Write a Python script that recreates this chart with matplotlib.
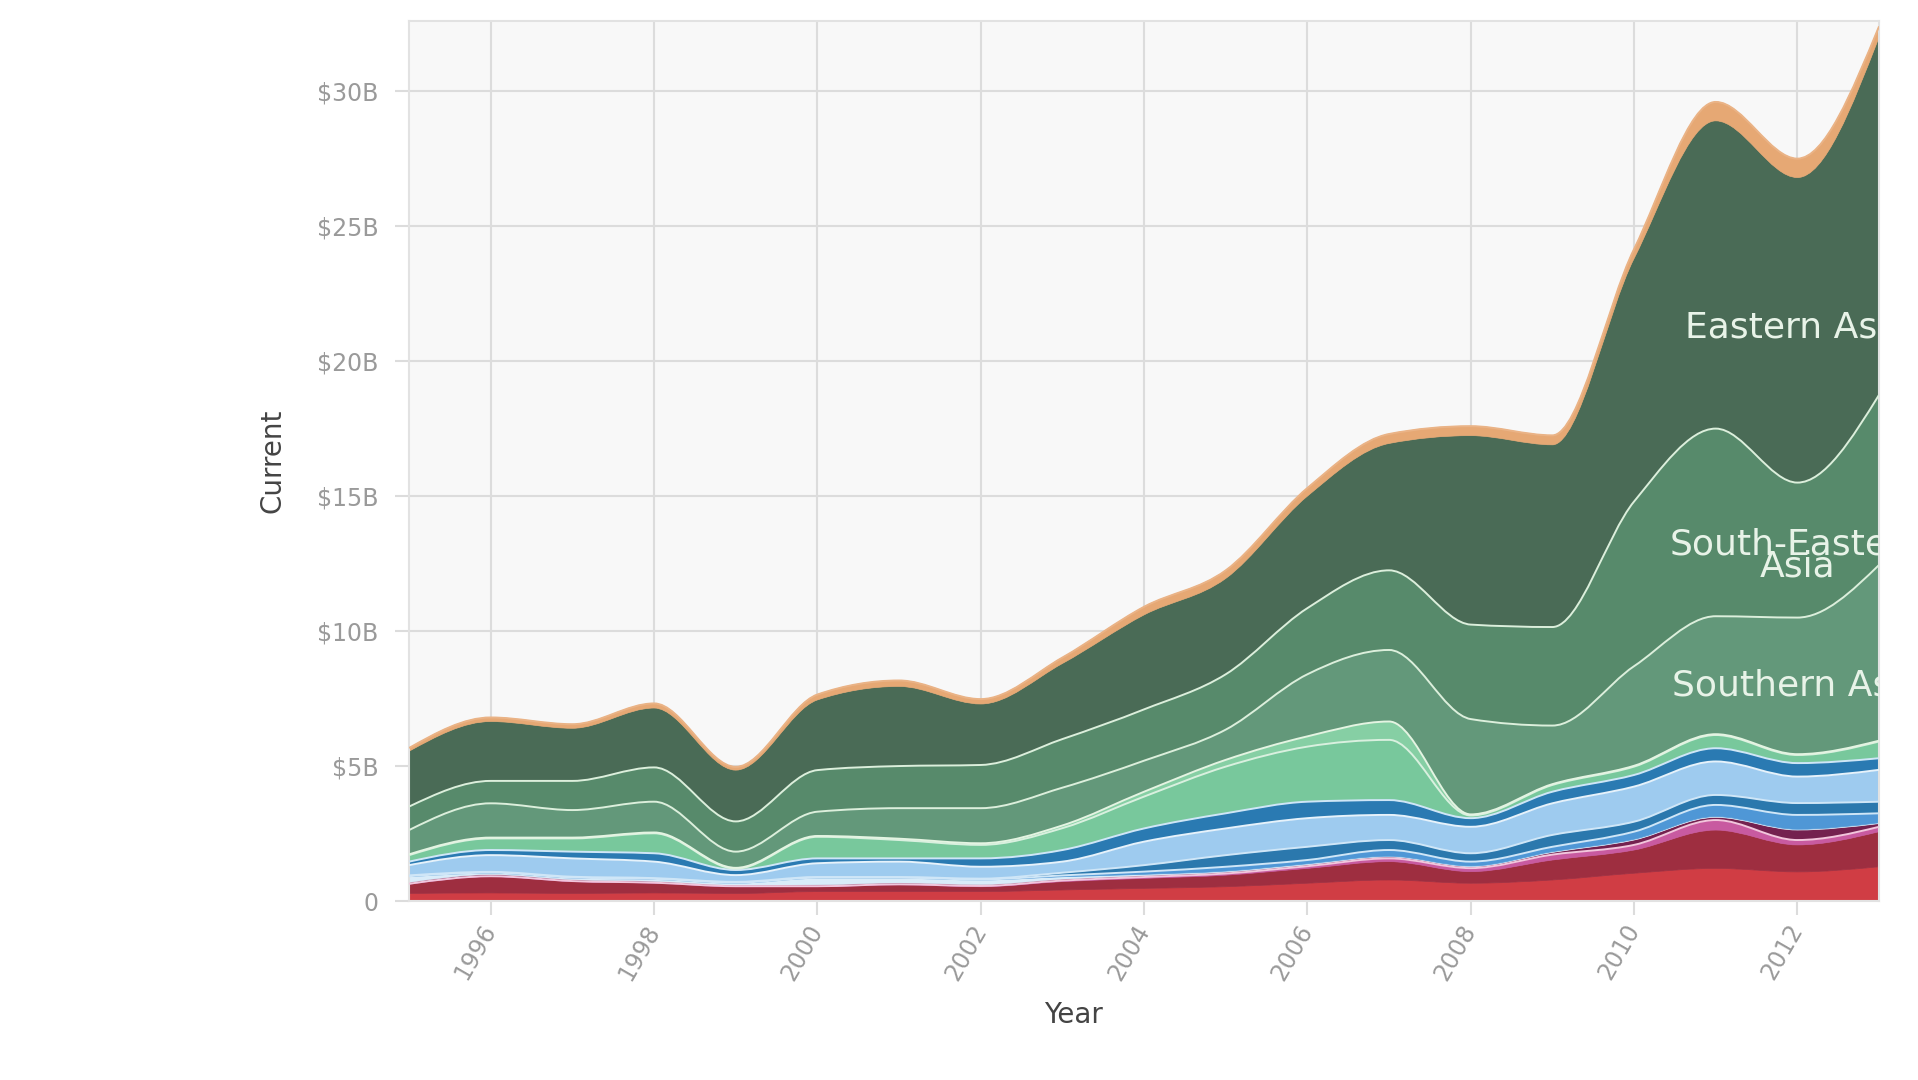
import matplotlib
matplotlib.use("Agg")
import matplotlib.pyplot as plt
import numpy as np
from matplotlib.path import Path
from matplotlib.patches import PathPatch
from matplotlib.ticker import FuncFormatter

years = np.arange(1995, 2014)

# Values in $B per region layer, stacked from the bottom up
red = [0.28, 0.30, 0.28, 0.30, 0.28, 0.35, 0.35, 0.35, 0.41, 0.47,
       0.53, 0.66, 0.78, 0.66, 0.78, 1.03, 1.21, 1.08, 1.27]
dark_red = [0.34, 0.60, 0.44, 0.36, 0.25, 0.18, 0.25, 0.18, 0.31, 0.37,
            0.43, 0.55, 0.68, 0.43, 0.74, 0.86, 1.42, 1.00, 1.30]
pink = [0.02, 0.02, 0.02, 0.02, 0.02, 0.02, 0.02, 0.03, 0.04, 0.05,
        0.06, 0.08, 0.12, 0.13, 0.20, 0.19, 0.37, 0.18, 0.18]
purple = [0.05, 0.06, 0.05, 0.05, 0.04, 0.05, 0.05, 0.05, 0.05, 0.05,
          0.05, 0.05, 0.05, 0.05, 0.08, 0.18, 0.10, 0.37, 0.12]
pale_blue = [0.21, 0.05, 0.06, 0.07, 0.07, 0.24, 0.17, 0.17, 0.09, 0.05,
             0.04, 0.04, 0.03, 0.03, 0.03, 0.03, 0.03, 0.03, 0.03]
mid_blue = [0.02, 0.02, 0.02, 0.02, 0.02, 0.02, 0.02, 0.02, 0.05, 0.10,
            0.16, 0.14, 0.23, 0.16, 0.18, 0.28, 0.43, 0.53, 0.35]
steel_blue = [0.03, 0.03, 0.03, 0.03, 0.03, 0.03, 0.03, 0.03, 0.10, 0.24,
              0.43, 0.49, 0.37, 0.31, 0.44, 0.37, 0.37, 0.44, 0.43]
light_blue = [0.38, 0.62, 0.68, 0.61, 0.25, 0.51, 0.57, 0.44, 0.41, 0.87,
              0.99, 1.06, 0.93, 0.98, 1.17, 1.30, 1.24, 0.98, 1.18]
navy_blue = [0.13, 0.19, 0.25, 0.31, 0.19, 0.18, 0.12, 0.31, 0.43, 0.49,
             0.56, 0.61, 0.55, 0.32, 0.43, 0.43, 0.49, 0.50, 0.43]
mint = [0.24, 0.43, 0.49, 0.74, 0.05, 0.80, 0.68, 0.50, 0.81, 1.18,
        1.73, 2.04, 2.23, 0.10, 0.25, 0.31, 0.49, 0.30, 0.62]
pale_mint = [0.03, 0.03, 0.03, 0.03, 0.03, 0.03, 0.05, 0.06, 0.10, 0.18,
             0.25, 0.38, 0.68, 0.04, 0.03, 0.03, 0.03, 0.03, 0.03]
southern_asia = [0.90, 1.27, 1.02, 1.14, 0.60, 0.90, 1.13, 1.30, 1.40, 1.15,
                 1.12, 2.30, 2.65, 3.53, 2.17, 3.69, 4.37, 5.06, 6.51]
south_eastern_asia = [0.87, 0.83, 1.08, 1.27, 1.12, 1.54, 1.56, 1.60, 1.80, 1.90,
                      2.05, 2.45, 2.95, 3.50, 3.65, 6.10, 6.95, 5.00, 6.30]
eastern_asia = [2.05, 2.20, 1.95, 2.20, 1.90, 2.60, 2.95, 2.26, 2.80, 3.50,
                3.55, 4.15, 4.70, 7.00, 6.75, 9.00, 11.40, 11.30, 13.25]
top_orange = [0.12, 0.15, 0.15, 0.17, 0.12, 0.20, 0.22, 0.18, 0.22, 0.30,
              0.30, 0.30, 0.35, 0.35, 0.35, 0.35, 0.70, 0.70, 0.40]

# (values, fill colour, edge colour or None)
layers = [
    (red, "#d03d44", None),
    (dark_red, "#9e2e40", None),
    (pink, "#c85aa0", "#f2c6dc"),
    (purple, "#74214f", None),
    (pale_blue, "#d9ecf9", None),
    (mid_blue, "#4f97d6", "#cfe6f7"),
    (steel_blue, "#2b78ad", "#cfe6f7"),
    (light_blue, "#9ecbef", "#e6f2fb"),
    (navy_blue, "#2a7ab2", "#cfe6f7"),
    (mint, "#78c89c", "#d9f0df"),
    (pale_mint, "#86cfa4", "#e4f4e2"),
    (southern_asia, "#63987a", "#dcefdc"),
    (south_eastern_asia, "#578a6b", "#dcefdc"),
    (eastern_asia, "#4a6b56", None),
    (top_orange, "#e6a874", "#eab386"),
]

labels = [
    ("Eastern Asia", 21.25),
    ("South-Eastern", 13.2),
    ("Asia", 12.4),
    ("Southern Asia", 8.0),
]


def monotone_slopes(y):
    d = np.diff(y)
    m = np.zeros(len(y))
    for i in range(1, len(y) - 1):
        s0, s1 = d[i - 1], d[i]
        p = (s0 + s1) / 2
        m[i] = (np.sign(s0) + np.sign(s1)) * min(abs(s0), abs(s1), 0.5 * abs(p))
    m[0] = (3 * d[0] - m[1]) / 2
    m[-1] = (3 * d[-1] - m[-2]) / 2
    return m


def curve_verts(x, y):
    m = monotone_slopes(y)
    verts = [(x[0], y[0])]
    for i in range(len(x) - 1):
        h = x[i + 1] - x[i]
        verts += [(x[i] + h / 3, y[i] + m[i] * h / 3),
                  (x[i + 1] - h / 3, y[i + 1] - m[i + 1] * h / 3),
                  (x[i + 1], y[i + 1])]
    return verts


fig = plt.figure(figsize=(19.18, 10.8), dpi=100)
ax = fig.add_axes([0.2133, 0.1657, 0.9797 - 0.2133, 0.9806 - 0.1657])
ax.set_facecolor("#f8f8f8")

x = years.astype(float)
n = len(x)
bottom = np.zeros(n)
for values, color, edge in layers:
    top = bottom + np.array(values)
    upper = curve_verts(x, top)
    lower = curve_verts(x, bottom)[::-1]
    verts = upper + lower + [upper[0]]
    codes = ([Path.MOVETO] + [Path.CURVE4] * (3 * (n - 1)) + [Path.LINETO]
             + [Path.CURVE4] * (3 * (n - 1)) + [Path.CLOSEPOLY])
    ax.add_patch(PathPatch(Path(verts, codes), facecolor=color,
                           edgecolor=color, lw=0.5, zorder=2))
    if edge:
        codes_line = [Path.MOVETO] + [Path.CURVE4] * (3 * (n - 1))
        ax.add_patch(PathPatch(Path(upper, codes_line), fill=False,
                               edgecolor=edge, lw=1.4, zorder=3))
    bottom = top

for text, yv in labels:
    ax.text(2012.0, yv, text, ha="center", va="center", fontsize=26,
            color="#e8f3e8", clip_on=True, zorder=5)

ax.set_xlim(1995, 2013)
ax.set_ylim(0, 32.6)
ax.set_xticks(np.arange(1996, 2013, 2))
ax.set_yticks(np.arange(0, 31, 5))
ax.yaxis.set_major_formatter(FuncFormatter(lambda v, _: "0" if v == 0 else f"${v:.0f}B"))

ax.grid(True, color="#dcdcdc", lw=1.5)
ax.set_axisbelow(True)
for s in ax.spines.values():
    s.set_color("#e2e2e2")
    s.set_linewidth(1.5)

ax.tick_params(axis="both", colors="#dcdcdc", width=1.5, length=10,
               labelcolor="#9a9a9a", labelsize=17)
ax.tick_params(axis="y", pad=12)
ax.tick_params(axis="x", pad=8)
for lbl in ax.get_xticklabels():
    lbl.set_rotation(60)
    lbl.set_ha("right")
    lbl.set_va("center")
    lbl.set_rotation_mode("anchor")

ax.set_xlabel("Year", fontsize=20, color="#444444")
ax.xaxis.set_label_coords(0.452, -0.114)
ax.set_ylabel("Current", fontsize=20, color="#444444", labelpad=22)

fig.savefig("out.png", dpi=100, facecolor="white")
